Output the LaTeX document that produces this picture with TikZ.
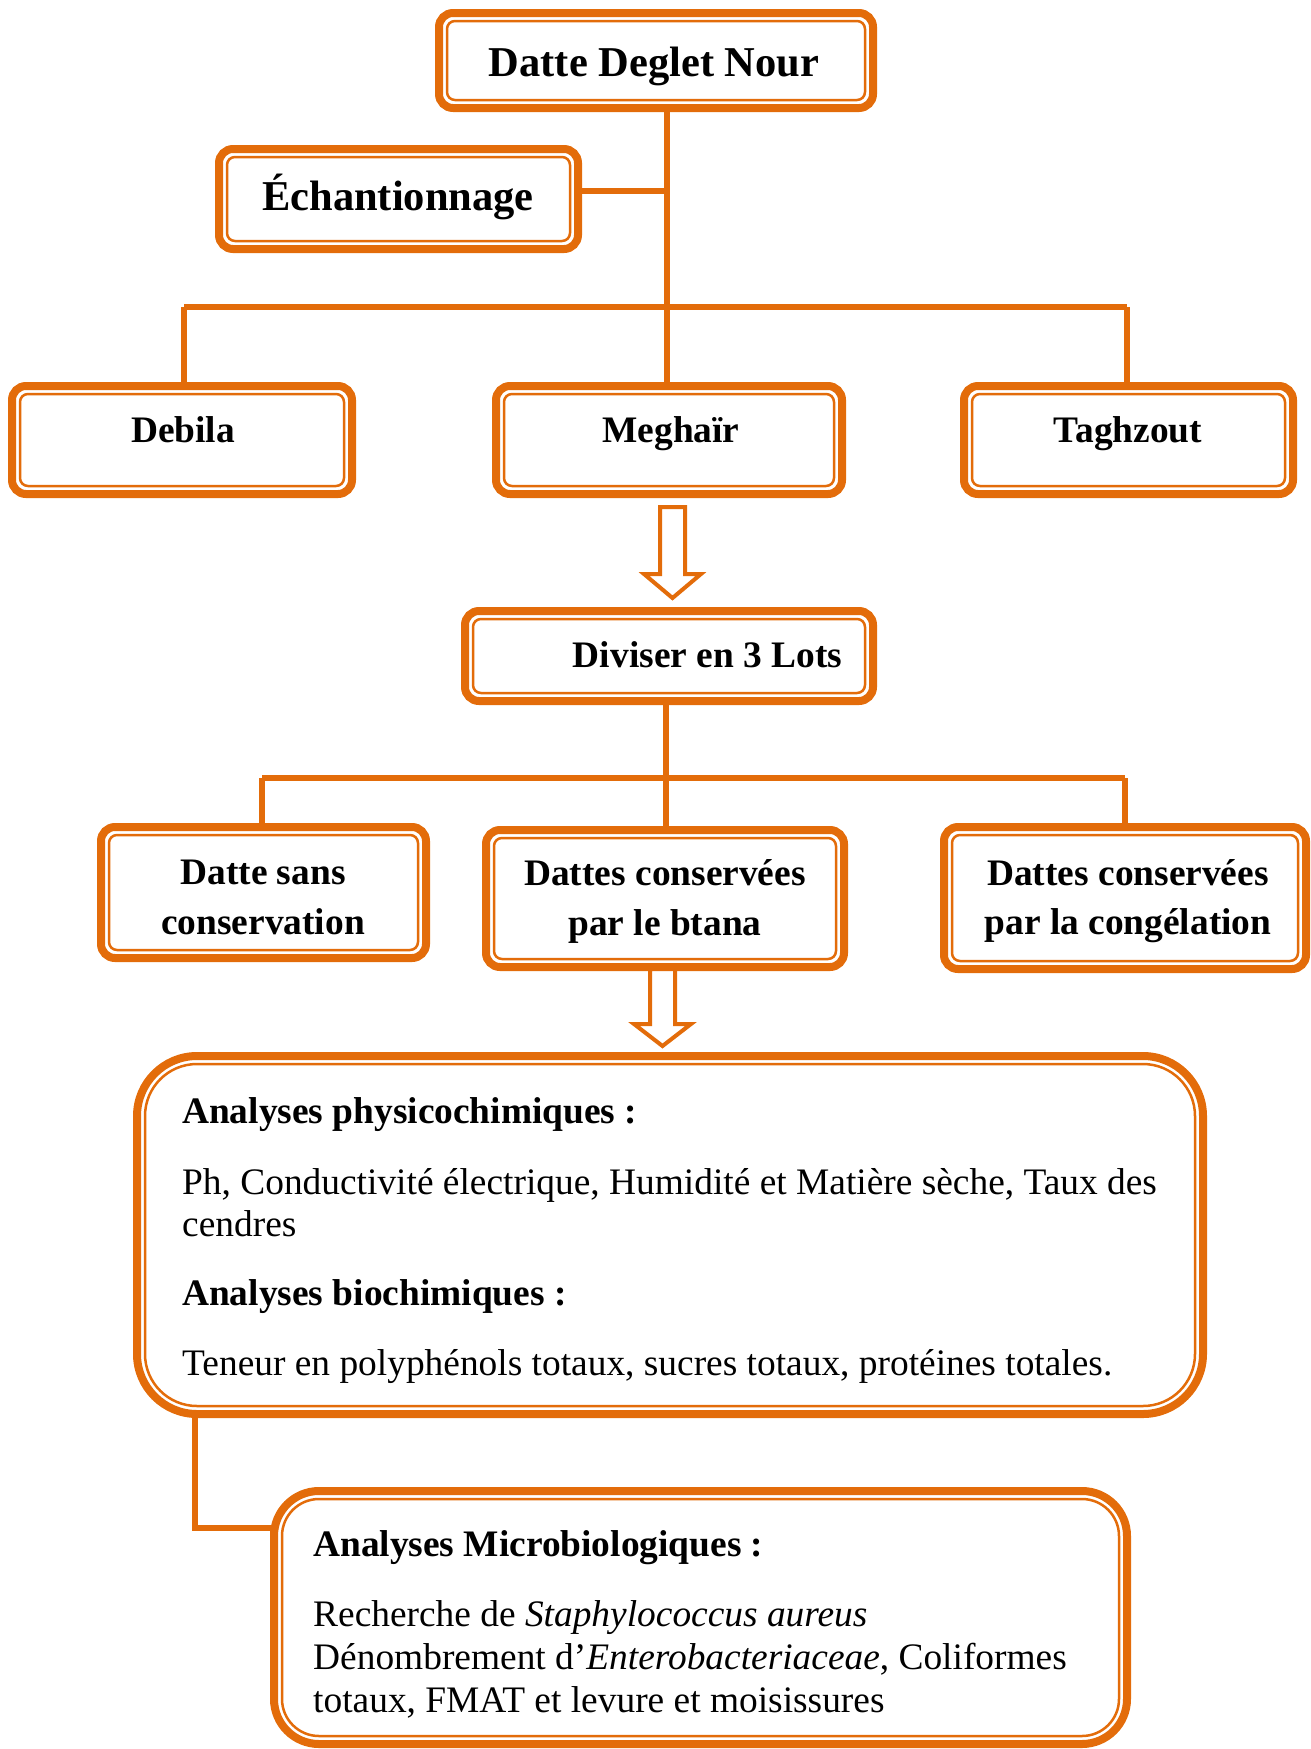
\documentclass[tikz,border=0pt]{standalone}
\usepackage{fontspec}
\setmainfont{Liberation Serif}
\definecolor{org}{RGB}{227,108,10}
\newcommand\myTitleFont{\fontsize{42.5}{48}\selectfont\bfseries}
\newcommand\myBoxFont{\fontsize{37.4}{44}\selectfont\bfseries}
\newcommand\myTextFont{\fontsize{37.4}{42}\selectfont}
\newcommand\innerln[2]{\draw[org, line width=2.5, rounded corners=#2] ([shift={(8,8)}]#1.north west) rectangle ([shift={(-8,-8)}]#1.south east);}
\tikzset{
  box/.style={draw=org, line width=8, rounded corners=#1, outer sep=0, inner sep=0, fill=white},
  box/.default=14,
  conn/.style={draw=org, line width=5.5},
  hollow/.style={draw=org, line width=4, fill=white, line join=miter},
  ttl/.style={anchor=base, font=\myTitleFont, inner sep=0},
  btx/.style={anchor=base, font=\myBoxFont, inner sep=0},
  ltx/.style={anchor=base west, font=\myTextFont, inner sep=0},
  lhd/.style={anchor=base west, font=\myTextFont\bfseries, inner sep=0},
}
\begin{document}
\begin{tikzpicture}[x=1pt,y=-1pt]
\useasboundingbox (0,0) rectangle (1310,1749);
% junction coordinates
\coordinate (j1) at (667,307);
\coordinate (e2) at (667,191);
\coordinate (h1L) at (184,307);
\coordinate (h1R) at (1127,307);
\coordinate (j2) at (666,778);
\coordinate (h2L) at (262,778);
\coordinate (h2R) at (1125,778);
\coordinate (c3) at (195,1528);

% boxes
\node[box, minimum width=434, minimum height=95] (B1) at (656,60.5) {};
\node[box, minimum width=359, minimum height=100] (B2) at (398.5,199) {};
\node[box, minimum width=340, minimum height=108] (Deb) at (182,440) {};
\node[box, minimum width=346, minimum height=108] (Meg) at (669,440) {};
\node[box, minimum width=329, minimum height=108] (Tag) at (1128.5,440) {};
\node[box, minimum width=408, minimum height=90] (Div) at (669,656) {};
\node[box, minimum width=325, minimum height=131] (Sans) at (263.5,892.5) {};
\node[box, minimum width=358, minimum height=137] (Btn) at (665,898.5) {};
\node[box, minimum width=362, minimum height=142] (Cong) at (1125,898) {};
\node[box=60, minimum width=1066, minimum height=358] (Phys) at (670,1235) {};
\node[box=45, minimum width=853, minimum height=253] (Micro) at (700.5,1617.5) {};

\innerln{B1}{8}
\innerln{B2}{8}
\innerln{Deb}{8}
\innerln{Meg}{8}
\innerln{Tag}{8}
\innerln{Div}{8}
\innerln{Sans}{8}
\innerln{Btn}{8}
\innerln{Cong}{8}
\innerln{Phys}{52}
\innerln{Micro}{37}

% connectors
\draw[conn] (B1.south -| j1) -- (Meg.north -| j1);
\draw[conn] (B2.east |- e2) -- (e2);
\draw[conn] (h1L) -- (h1R);
\draw[conn] (h1L) -- (Deb.north -| h1L);
\draw[conn] (h1R) -- (Tag.north -| h1R);
\draw[conn] (Div.south -| j2) -- (Btn.north -| j2);
\draw[conn] (h2L) -- (h2R);
\draw[conn] (h2L) -- (Sans.north -| h2L);
\draw[conn] (h2R) -- (Cong.north -| h2R);
\draw[conn] (Phys.south -| c3) -- (c3) -- (Micro.west |- c3);

% hollow arrows
\draw[hollow] (660,507) -- (685,507) -- (685,574) -- (701,574) -- (672.5,598) -- (644,574) -- (660,574) -- cycle;
\draw[hollow] (650,969) -- (675,969) -- (675,1024) -- (691,1024) -- (662.5,1046) -- (634,1024) -- (650,1024) -- cycle;

% texts
\node[ttl] (t1) at (654,76) {Datte Deglet Nour};
\node[ttl] (t2) at (398,210) {Échantionnage};
\node[btx] (t3) at (183,442) {Debila};
\node[btx] (t4) at (671,442) {Meghaïr};
\node[btx] (t5) at (1128,442) {Taghzout};
\node[btx] (t6) at (707.5,667) {Diviser en 3 Lots};
\node[btx] (t7a) at (263,884) {Datte sans};
\node[btx] (t7b) at (263,934) {conservation};
\node[btx] (t8a) at (665,885) {Dattes conservées};
\node[btx] (t8b) at (665,935) {par le btana};
\node[btx] (t9a) at (1128,885) {Dattes conservées};
\node[btx] (t9b) at (1128,934) {par la congélation};

\node[lhd] (p1) at (182,1123) {Analyses physicochimiques :};
\node[ltx] (p2) at (182,1194) {Ph, Conductivité électrique, Humidité et Matière sèche, Taux des};
\node[ltx] (p3) at (182,1236) {cendres};
\node[lhd] (p4) at (182,1305) {Analyses biochimiques :};
\node[ltx] (p5) at (182,1375) {Teneur en polyphénols totaux, sucres totaux, protéines totales.};

\node[lhd] (m1) at (313,1556) {Analyses Microbiologiques :};
\node[ltx] (m2) at (313,1626) {Recherche de \textit{Staphylococcus aureus}};
\node[ltx] (m3) at (313,1669) {Dénombrement d’\textit{Enterobacteriaceae}, Coliformes};
\node[ltx] (m4) at (313,1712) {totaux, FMAT et levure et moisissures};
\end{tikzpicture}
\end{document}
